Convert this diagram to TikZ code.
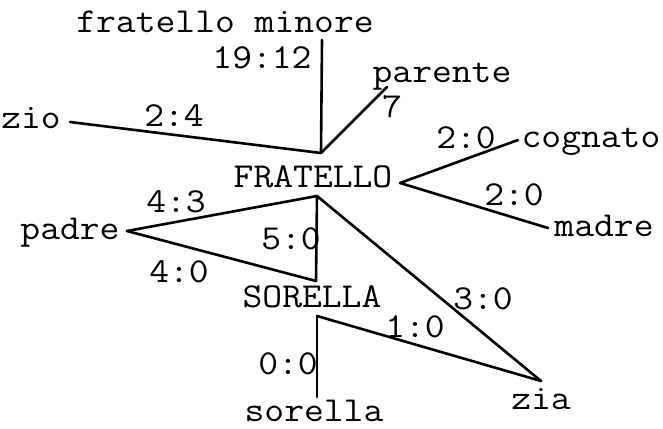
\documentclass[tikz,border=0pt]{standalone}
\usepackage{fontspec}
\usepackage{graphicx}
\newcommand{\wt}[1]{\scalebox{1.1}[1]{#1}}
\begin{document}
\begin{tikzpicture}[x=1pt,y=-1pt,
  lbl/.style={font=\ttfamily\fontsize{35}{38}\selectfont, inner sep=0pt, anchor=base},
  edge/.style={line width=2.6pt, line cap=round, line join=round}]
\useasboundingbox (0,0) rectangle (663,428);
% nodes
\node[lbl] (fm)  at (225,33)  {\wt{fratello minore}};
\node[lbl] (zio) at (31,128)  {\wt{zio}};
\node[lbl] (par) at (442,82)  {\wt{parente}};
\node[lbl] (fr)  at (313,187) {\wt{FRATELLO}};
\node[lbl] (cog) at (591,147) {\wt{cognato}};
\node[lbl] (mad) at (604,236) {\wt{madre}};
\node[lbl] (pad) at (70,239)  {\wt{padre}};
\node[lbl] (so)  at (312,307) {\wt{SORELLA}};
\node[lbl] (zia) at (541,409) {\wt{zia}};
\node[lbl] (sol) at (314,421) {\wt{sorella}};
% edge labels
\node[lbl] (l1) at (262,68)  {\wt{19:12}};
\node[lbl] (l2) at (174,126) {\wt{2:4}};
\node[lbl] (l3) at (392,117) {\wt{7}};
\node[lbl] (l4) at (466,148) {\wt{2:0}};
\node[lbl] (l5) at (514,205) {\wt{2:0}};
\node[lbl] (l6) at (176,212) {\wt{4:3}};
\node[lbl] (l7) at (291,249) {\wt{5:0}};
\node[lbl] (l8) at (179,282) {\wt{4:0}};
\node[lbl] (l9) at (483,309) {\wt{3:0}};
\node[lbl] (l10) at (415,337) {\wt{1:0}};
\node[lbl] (l11) at (288,374) {\wt{0:0}};
% junction / end coordinates
\coordinate (fmS)  at (322,40);
\coordinate (jT)   at (321,153);
\coordinate (zioE) at (70,122);
\coordinate (parS) at (387,87);
\coordinate (jR)   at (400,183);
\coordinate (cogW) at (518,140);
\coordinate (madW) at (548,228);
\coordinate (jB)   at (317,196);
\coordinate (padE) at (127,231);
\coordinate (soN)  at (316,281);
\coordinate (soS)  at (317,316);
\coordinate (jZ)   at (541,381);
\coordinate (solN) at (317,397);
% connectors
\draw[edge] (fmS) -- (jT);
\draw[edge] (zioE) -- (jT);
\draw[edge] (jT) -- (parS);
\draw[edge] (jR) -- (cogW);
\draw[edge] (jR) -- (madW);
\draw[edge] (padE) -- (jB);
\draw[edge] (jB) -- (soN);
\draw[edge] (padE) -- (soN);
\draw[edge] (jB) -- (jZ);
\draw[edge] (soS) -- (jZ);
\draw[edge] (soS) -- (solN);
\end{tikzpicture}
\end{document}
